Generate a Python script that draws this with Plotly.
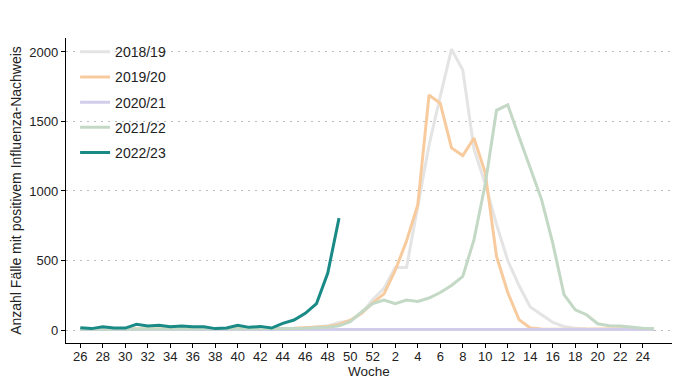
import plotly.graph_objects as go

weeks = list(range(26, 53)) + list(range(1, 26))
tick_weeks = [26, 28, 30, 32, 34, 36, 38, 40, 42, 44, 46, 48, 50, 52,
              2, 4, 6, 8, 10, 12, 14, 16, 18, 20, 22, 24]

s2018 = [8, 8, 8, 8, 8, 8, 8, 8, 8, 8, 8, 8, 8, 8, 8, 8, 8, 8,
         10, 12, 15, 20, 30, 55, 65, 120, 220,
         300, 450, 450, 900, 1330, 1680, 2020, 1870, 1300, 1050, 760, 500,
         320, 165, 110, 55, 25, 12, 8, 5, 5, 5, 5, 5, 5]
s2019 = [6, 6, 6, 6, 6, 6, 6, 6, 6, 6, 6, 6, 6, 6, 6, 6, 6, 6,
         10, 12, 15, 20, 25, 40, 70, 120, 195,
         260, 430, 640, 900, 1690, 1630, 1310, 1255, 1380, 1130, 530, 270,
         75, 15, 8, 5, 5, 5, 5, 5, 8, 10, 10, 10, 10]
s2020 = [3] * 52
s2021 = [5, 5, 5, 5, 5, 5, 5, 5, 5, 5, 5, 5, 5, 5, 5, 5, 5, 5,
         8, 10, 12, 15, 20, 30, 60, 130, 190,
         215, 190, 215, 205, 230, 270, 320, 385, 650, 1050, 1580, 1620,
         1390, 1170, 940, 625, 255, 145, 110, 45, 30, 28, 18, 12, 10]
s2022 = [17, 10, 24, 14, 14, 41, 29, 34, 24, 29, 24, 24, 10, 14, 34, 19, 26, 14,
         48, 72, 120, 190, 410, 805]

series = [
    ("2018/19", s2018, "#e4e4e4"),
    ("2019/20", s2019, "#f8cb9e"),
    ("2020/21", s2020, "#d2cdea"),
    ("2021/22", s2021, "#c3d8c5"),
    ("2022/23", s2022, "#1a8a87"),
]

idx = {w: i for i, w in enumerate(weeks)}

fig = go.Figure()
for name, vals, col in series:
    xs = [idx[w] for w in weeks[:len(vals)]]
    fig.add_trace(go.Scatter(x=xs, y=vals, mode="lines", name=name,
                             legendgroup=name,
                             line=dict(color=col, width=3)))

font = "Liberation Sans, Arial, sans-serif"
fig.update_layout(
    width=680, height=388,
    margin=dict(l=66, r=8, t=38, b=45),
    plot_bgcolor="white", paper_bgcolor="white",
    font=dict(family=font, size=13, color="#222"),
    showlegend=True,
    legend=dict(x=0.015, y=1.006, xanchor="left", yanchor="top",
                font=dict(size=14, color="#222"), tracegroupgap=4,
                bgcolor="rgba(0,0,0,0)"),
    xaxis=dict(range=[-1.27, 52.6], tickmode="array", automargin=False,
               tickvals=[idx[w] for w in tick_weeks],
               ticktext=[str(w) for w in tick_weeks],
               showgrid=False, zeroline=False,
               showline=True, linecolor="black", linewidth=1.3,
               ticks="outside", ticklen=4, tickcolor="black",
               ticklabelstandoff=-3,
               tickfont=dict(size=13, color="#222"),
               title=dict(text="Woche", font=dict(size=13.5), standoff=0)),
    yaxis=dict(range=[-93.5, 2100.5], tickvals=[0, 500, 1000, 1500, 2000],
               automargin=False,
               showgrid=True, gridcolor="#bdbdbd", griddash="2px,5px", gridwidth=1,
               zeroline=False,
               showline=True, linecolor="black", linewidth=1.3,
               ticks="outside", ticklen=4, tickcolor="black",
               tickfont=dict(size=13, color="#222"),
               title=dict(text="Anzahl Fälle mit positivem Influenza-Nachweis",
                          font=dict(size=14), standoff=4)),
)

fig.write_html("out.html", config={"displayModeBar": False},
               post_script="document.body.style.margin='0';document.body.style.overflow='hidden';")
